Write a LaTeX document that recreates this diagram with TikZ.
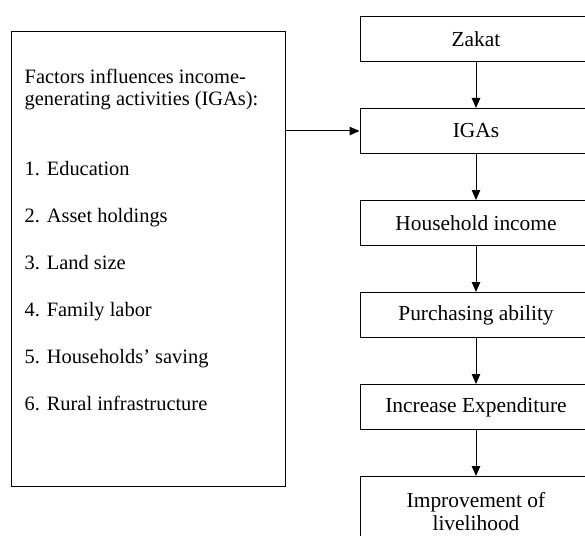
\documentclass[tikz,border=0pt]{standalone}
\usepackage{fontspec}
\setmainfont{Liberation Serif}
\usetikzlibrary{positioning,arrows.meta}
\tikzset{
  stagebox/.style={draw, line width=1bp, minimum width=232bp, minimum height=45bp, inner xsep=4bp, inner ysep=11bp, align=center, font=\fontsize{21.5}{23.5}\selectfont},
  factorbox/.style={draw, line width=1bp, minimum width=273.5bp, minimum height=454bp, inner sep=0pt},
  factortext/.style={inner sep=0pt, align=left, font=\fontsize{20.5}{23}\selectfont},
  arrow/.style={-{Triangle[length=10bp,width=8.5bp]}, line width=1bp}
}

\begin{document}
\begin{tikzpicture}[x=1bp, y=-1bp, node distance=46bp]
\clip (0,0) rectangle (585,536);
\node[stagebox] (zakat) at (476,39) {Zakat};
\node[stagebox, below=of zakat] (igas) {IGAs};
\node[stagebox, below=of igas] (income) {Household income};
\node[stagebox, below=of income] (purchase) {Purchasing ability};
\node[stagebox, below=of purchase] (expend) {Increase Expenditure};
\node[stagebox, below=of expend, minimum height=70bp] (livelihood) {Improvement of\\livelihood};
\foreach \a/\b in {zakat/igas,igas/income,income/purchase,purchase/expend,expend/livelihood}{\draw[arrow] (\a) -- (\b);}
\node[factorbox] (factors) at (148.25,259) {};
\node[factortext, anchor=north west] (factorlist) at ([shift={(13.5,37)}]factors.north west) {Factors influences income-\\generating activities (IGAs):\\[47bp]1. Education\\[24bp]2. Asset holdings\\[24bp]3. Land size\\[24bp]4. Family labor\\[24bp]5. Households’ saving\\[24bp]6. Rural infrastructure};
\draw[arrow] (factors.east |- igas.west) -- (igas.west);
\end{tikzpicture}
\end{document}
